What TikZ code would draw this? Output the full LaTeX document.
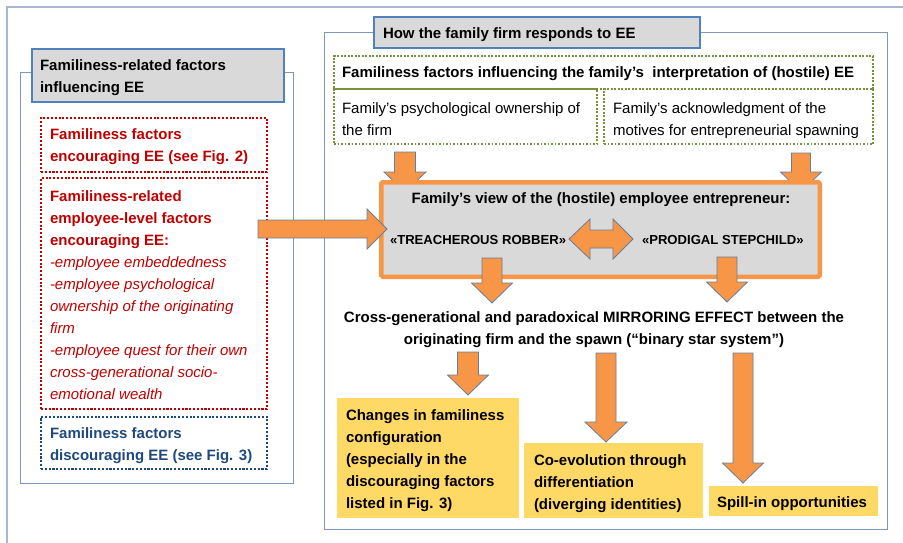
\documentclass[tikz,border=0pt]{standalone}
\usepackage{fontspec}
\setmainfont{Liberation Sans}
\definecolor{outerc}{RGB}{165,185,210}
\definecolor{panelc}{RGB}{125,152,190}
\definecolor{titleb}{RGB}{79,129,189}
\definecolor{titlef}{RGB}{217,217,217}
\definecolor{redc}{RGB}{192,0,0}
\definecolor{bluec}{RGB}{31,73,125}
\definecolor{greenc}{RGB}{118,146,60}
\definecolor{orangec}{RGB}{247,150,70}
\definecolor{arrowb}{RGB}{100,125,160}
\definecolor{yellowc}{RGB}{255,217,102}
\newcommand{\dnblk}[6]{\draw[blockarrow] ({#1-#5},#2) -- ({#1+#5},#2) -- ({#1+#5},#3) -- ({#1+#6},#3) -- (#1,#4) -- ({#1-#6},#3) -- ({#1-#5},#3) -- cycle;}
\newcommand{\itl}{\mdseries\itshape}
\begin{document}
\begin{tikzpicture}[x=1pt,y=-1pt,
  every node/.style={inner sep=0pt, outer sep=0pt},
  bt/.style={font=\fontsize{15}{22}\selectfont\bfseries, align=left},
  rg/.style={font=\fontsize{15}{22}\selectfont, align=left},
  capt/.style={font=\fontsize{13.1}{16}\selectfont\bfseries},
  panel/.style={draw=panelc, line width=1pt, anchor=north west},
  titlebox/.style={draw=titleb, fill=titlef, line width=1.2pt, anchor=north west},
  dotbox/.style={line width=2.1pt, dash pattern=on 2.1pt off 1.7pt, anchor=north west},
  greenbox/.style={dotbox, draw=greenc, line width=1.9pt, dash pattern=on 1.9pt off 1.6pt},
  mainbox/.style={draw=orangec, fill=titlef, line width=4.5pt, rounded corners=1.5pt, anchor=north west},
  yellowbox/.style={fill=yellowc, anchor=north west},
  blockarrow/.style={fill=orangec, draw=arrowb, line width=0.8pt, line join=miter}]
\useasboundingbox (0,0) rectangle (903,543);
% outer frame
\coordinate (ob) at (7,543);
\coordinate (otl) at (7,7);
\coordinate (otr) at (903,7);
\draw[outerc, line width=1.2pt] (ob) -- (otl) -- (otr);
% left panel
\node[panel, minimum width=273, minimum height=410] (lp) at (20,73) {};
\node[titlebox, minimum width=252, minimum height=53] (lt) at (32,49) {};
\node[bt, anchor=north west] (ltt) at (40,59.5) {Familiness-related factors\\influencing EE};
\node[dotbox, draw=redc, minimum width=226, minimum height=54] (r1) at (41,118) {};
\node[bt, text=redc, anchor=north west] (r1t) at (50,128.5) {Familiness factors\\encouraging EE (see Fig. 2)};
\node[dotbox, draw=redc, minimum width=226, minimum height=231] (r2) at (41,178) {};
\node[bt, text=redc, anchor=north west] (r2t) at (50,190.5) {Familiness-related\\employee-level factors\\encouraging EE:\\
  \itl -employee embeddedness\\\itl -employee psychological\\\itl ownership of the originating\\\itl firm\\\itl -employee quest for their own\\\itl cross-generational socio-\\\itl emotional wealth};
\node[dotbox, draw=bluec, minimum width=226, minimum height=52] (b1) at (41,417) {};
\node[bt, text=bluec, anchor=north west] (b1t) at (50,427.5) {Familiness factors\\discouraging EE (see Fig. 3)};
% right panel
\node[panel, minimum width=563, minimum height=496] (rp) at (324,33) {};
\node[titlebox, minimum width=326, minimum height=31] (rt) at (374,17) {};
\node[bt, anchor=base west] (rtt) at (383,38.4) {How the family firm responds to EE};
\node[greenbox, minimum width=539, minimum height=33] (g0) at (334,56) {};
\node[bt, anchor=base west] (g0t) at (342,77.4) {Familiness factors influencing the family’s \ interpretation of (hostile) EE};
\node[greenbox, minimum width=263, minimum height=55] (g1) at (334,89) {};
\node[rg, anchor=north west] (g1t) at (342,102.5) {Family’s psychological ownership of\\the firm};
\node[greenbox, minimum width=269, minimum height=55] (g2) at (604,89) {};
\node[rg, anchor=north west] (g2t) at (613,102.5) {Family’s acknowledgment of the\\motives for entrepreneurial spawning};
% arrows into main box
\dnblk{405}{152}{172}{192}{10.5}{21}
\dnblk{801}{153}{172}{192}{9.5}{20.5}
% main box
\node[mainbox, minimum width=438.5, minimum height=94.5] (mb) at (381.25,182.25) {};
\node[bt, anchor=base] (mbt) at (601,203.4) {Family’s view of the (hostile) employee entrepreneur:};
\node[capt, anchor=base west] (tr) at (390,244.7) {«TREACHEROUS ROBBER»};
\node[capt, anchor=base west] (ps) at (642,244.7) {«PRODIGAL STEPCHILD»};
% left big arrow
\draw[blockarrow] (258,220) -- (367,220) -- (367,209) -- (387,229) -- (367,249) -- (367,238) -- (258,238) -- cycle;
% double arrow
\draw[blockarrow] (569,239) -- (590,219) -- (590,230) -- (613,230) -- (613,219) -- (633,239) -- (613,259) -- (613,248) -- (590,248) -- (590,259) -- cycle;
% arrows out of main box
\dnblk{492}{258}{283}{303}{10}{20.5}
\dnblk{727}{257}{282}{302}{10}{20.5}
% mirroring text
\node[bt, align=center, anchor=north] (mir) at (594,311.5) {Cross-generational and paradoxical MIRRORING EFFECT between the\\originating firm and the spawn (“binary star system”)};
% bottom arrows
\dnblk{468}{352}{375}{395}{10.5}{20.5}
\dnblk{606}{353}{422}{442}{10}{21}
\dnblk{743}{353}{463}{483}{10}{20.5}
% yellow boxes
\node[yellowbox, minimum width=182, minimum height=120] (y1) at (337,398) {};
\node[bt, anchor=north west] (y1t) at (346,409.5) {Changes in familiness\\configuration\\(especially in the\\discouraging factors\\listed in Fig. 3)};
\node[yellowbox, minimum width=179, minimum height=75] (y2) at (524,443) {};
\node[bt, anchor=north west] (y2t) at (534,454.5) {Co-evolution through\\differentiation\\(diverging identities)};
\node[yellowbox, minimum width=169, minimum height=30] (y3) at (709,486) {};
\node[bt, anchor=base west] (y3t) at (717,507.4) {Spill-in opportunities};
\end{tikzpicture}
\end{document}
